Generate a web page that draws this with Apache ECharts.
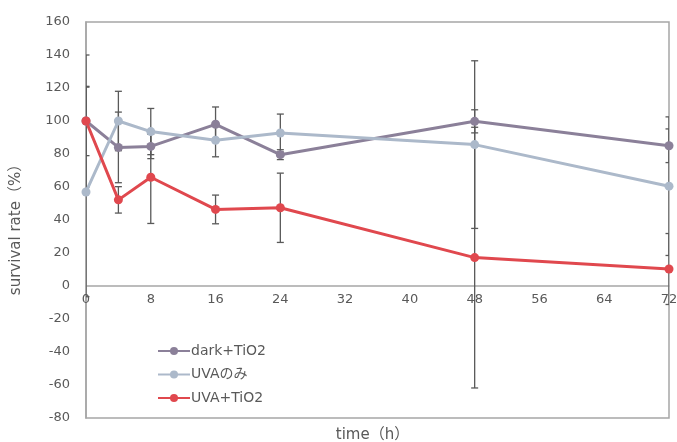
<!DOCTYPE html>
<html>
<head>
<meta charset="utf-8">
<script src="https://cdn.jsdelivr.net/npm/echarts@6/dist/echarts.min.js"></script>
<style>
  html, body { margin: 0; padding: 0; background: #fff; }
  #chart { width: 677px; height: 442px; }
</style>
</head>
<body>
<div id="chart"></div>
<script>
// 時間 (h)
const times = [0, 4, 8, 16, 24, 48, 72];
// 生存率 (%) と誤差
const darkTiO2 = [100, 84, 84.6, 98, 79.6, 99.8, 85];
const darkTiO2Err = [21, 21.4, 7.4, 10.5, 3, 7, 10.2];
const uvaOnly = [57, 100, 93.6, 88.3, 92.7, 85.7, 60.5];
const uvaOnlyErr = [63.5, 18, 14, 10, 11.5, 50.8, 42];
const uvaTiO2 = [100, 52.2, 65.9, 46.4, 47.4, 17.2, 10.3];
const uvaTiO2Err = [40, 8, 28, 8.7, 21, 79, 21.5];
const xTicks = [0, 8, 16, 24, 32, 40, 48, 56, 64, 72];
const yTicks = [-80, -60, -40, -20, 0, 20, 40, 60, 80, 100, 120, 140, 160];

const FONT = "'DejaVu Sans', 'Noto Sans CJK JP', sans-serif";
const TEXT_COLOR = '#595959';

const chart = echarts.init(document.getElementById('chart'));

const lineSeries = (name, values, color) => ({
  name: name,
  type: 'line',
  z: 3,
  data: times.map((t, i) => [t, values[i]]),
  symbol: 'circle',
  symbolSize: 9,
  lineStyle: { color: color, width: 3 },
  itemStyle: { color: color },
});

const errorSeries = (name, values, errs) => ({
  name: name,
  type: 'custom',
  z: 2,
  clip: true,
  silent: true,
  data: times.map((t, i) => [t, values[i] - errs[i], values[i] + errs[i]]),
  encode: { x: 0, y: [1, 2] },
  renderItem: (params, api) => {
    const lo = api.coord([api.value(0), api.value(1)]);
    const hi = api.coord([api.value(0), api.value(2)]);
    const w = 3.5;
    const style = { stroke: '#595959', lineWidth: 1.3 };
    return {
      type: 'group',
      children: [
        { type: 'line', shape: { x1: lo[0], y1: lo[1], x2: hi[0], y2: hi[1] }, style: style },
        { type: 'line', shape: { x1: lo[0] - w, y1: lo[1], x2: lo[0] + w, y2: lo[1] }, style: style },
        { type: 'line', shape: { x1: hi[0] - w, y1: hi[1], x2: hi[0] + w, y2: hi[1] }, style: style },
      ],
    };
  },
});

const option = {
  animation: false,
  grid: {
    left: 86,
    right: 8,
    top: 22,
    bottom: 24,
    containLabel: false,
    outerBoundsMode: 'none',
    show: true,
    borderColor: '#a6a6a6',
    borderWidth: 1.5,
  },
  legend: {
    orient: 'vertical',
    left: 152,
    top: 339,
    itemWidth: 32,
    itemHeight: 10,
    itemGap: 9.5,
    data: ['dark+TiO2', 'UVAのみ', 'UVA+TiO2'],
    textStyle: { color: TEXT_COLOR, fontSize: 14, fontFamily: FONT, padding: [0, 0, 0, -4] },
  },
  xAxis: {
    type: 'value',
    min: 0,
    max: 72,
    interval: 8,
    name: 'time（h）',
    nameLocation: 'middle',
    nameGap: 10,
    nameTextStyle: { color: TEXT_COLOR, fontSize: 15, fontFamily: FONT, padding: [0, 10, 0, 0] },
    axisLine: { onZero: true, lineStyle: { color: '#a6a6a6', width: 1.5 } },
    axisTick: { show: false },
    splitLine: { show: false },
    axisLabel: {
      color: TEXT_COLOR,
      fontSize: 13,
      fontFamily: FONT,
      // ラベルを0の線の直下へ
      margin: -125,
      formatter: (v) => (xTicks.includes(v) ? String(v) : ''),
    },
  },
  yAxis: {
    type: 'value',
    min: -80,
    max: 160,
    interval: 20,
    name: 'survival rate（%）',
    nameLocation: 'middle',
    nameGap: 62,
    nameTextStyle: { color: TEXT_COLOR, fontSize: 15, fontFamily: FONT, padding: [0, 12, 0, 0] },
    axisLine: { show: true, lineStyle: { color: '#a6a6a6', width: 1.5 } },
    axisTick: { show: false },
    splitLine: { show: false },
    axisLabel: {
      color: TEXT_COLOR,
      fontSize: 13,
      fontFamily: FONT,
      margin: 16,
      formatter: (v) => (yTicks.includes(v) ? String(v) : ''),
    },
  },
  series: [
    errorSeries('dark+TiO2 err', darkTiO2, darkTiO2Err),
    errorSeries('UVAのみ err', uvaOnly, uvaOnlyErr),
    errorSeries('UVA+TiO2 err', uvaTiO2, uvaTiO2Err),
    lineSeries('dark+TiO2', darkTiO2, '#8b8099'),
    lineSeries('UVAのみ', uvaOnly, '#acb9ca'),
    lineSeries('UVA+TiO2', uvaTiO2, '#e0484e'),
  ],
};

chart.setOption(option);
</script>
</body>
</html>
